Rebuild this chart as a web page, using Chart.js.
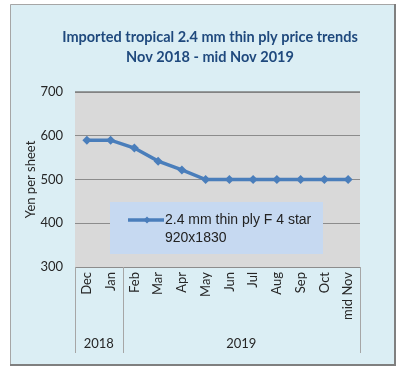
<!DOCTYPE html>
<html>
<head>
<meta charset="utf-8">
<script src="https://cdn.jsdelivr.net/npm/chart.js@4/dist/chart.umd.min.js"></script>
<style>
html,body{margin:0;padding:0;background:#ffffff;}
#wrap{position:absolute;left:0;top:0;width:414px;height:378px;}
</style>
</head>
<body>
<div id="wrap"><canvas id="c" width="414" height="378"></canvas></div>
<script>
const titleLines = ['Imported tropical 2.4 mm thin ply price trends', 'Nov 2018 - mid Nov 2019'];
const months = ['Dec','Jan','Feb','Mar','Apr','May','Jun','Jul','Aug','Sep','Oct','mid Nov'];
const years = ['2018','2019'];
const yearSpans = [2, 10];
const prices = [590,590,572,542,522,500,500,500,500,500,500,500];
const yTicks = [300,400,500,600,700];
const seriesName = '2.4 mm thin ply F 4 star 920x1830';
const legendLines = ['2.4 mm thin ply F 4 star', '920x1830'];
const yTitle = 'Yen per sheet';

const LINE = '#4a7ebb';
const FONT = 'Lato, "Open Sans", sans-serif';

const framePlugin = {
  id: 'frame',
  beforeDraw(chart) {
    const ctx = chart.ctx;
    ctx.save();
    ctx.fillStyle = '#dbeef4';
    ctx.fillRect(10, 4, 385, 361);
    ctx.strokeStyle = '#a6a6a6';
    ctx.lineWidth = 1;
    ctx.beginPath();
    ctx.moveTo(10.5, 365); ctx.lineTo(10.5, 4.5); ctx.lineTo(395, 4.5);
    ctx.stroke();
    ctx.strokeStyle = '#7f7f7f';
    ctx.lineWidth = 2;
    ctx.beginPath();
    ctx.moveTo(395, 4); ctx.lineTo(395, 365); ctx.lineTo(10, 365);
    ctx.stroke();
    const a = chart.chartArea;
    ctx.fillStyle = '#d9d9d9';
    ctx.fillRect(a.left, a.top, a.right - a.left, a.bottom - a.top);
    // title
    ctx.fillStyle = '#1f497d';
    ctx.font = 'bold 14.5px ' + FONT;
    ctx.textAlign = 'center';
    ctx.textBaseline = 'middle';
    ctx.fillText(titleLines[0], 210, 37);
    ctx.fillText(titleLines[1], 210, 57);
    ctx.restore();
  },
  afterDraw(chart) {
    const ctx = chart.ctx;
    const a = chart.chartArea;
    const xs = chart.scales.x;
    ctx.save();
    // top border of plot area
    ctx.strokeStyle = '#7f7f7f';
    ctx.lineWidth = 1.5;
    ctx.beginPath(); ctx.moveTo(a.left, a.top); ctx.lineTo(a.right, a.top); ctx.stroke();
    // group separators and year labels
    const half = (xs.getPixelForValue(1) - xs.getPixelForValue(0)) / 2;
    ctx.strokeStyle = '#a6a6a6';
    ctx.lineWidth = 1;
    let idx = 0;
    const bounds = [xs.getPixelForValue(0) - half];
    yearSpans.forEach(s => { idx += s; bounds.push(xs.getPixelForValue(idx - 1) + half); });
    bounds.forEach(b => {
      const x = Math.round(b) + 0.5;
      ctx.beginPath(); ctx.moveTo(x, a.bottom); ctx.lineTo(x, 353); ctx.stroke();
    });
    ctx.fillStyle = '#262626';
    ctx.font = '13px ' + FONT;
    ctx.textAlign = 'center';
    ctx.textBaseline = 'middle';
    years.forEach((y, i) => ctx.fillText(y, (bounds[i] + bounds[i + 1]) / 2, 344));
    // legend
    const lx = a.left + 35, ly = a.top + 110, lw = 213, lh = 52;
    ctx.fillStyle = '#c6d9f1';
    ctx.fillRect(lx, ly, lw, lh);
    ctx.strokeStyle = LINE;
    ctx.lineWidth = 3.5;
    ctx.beginPath(); ctx.moveTo(lx + 18, ly + 18); ctx.lineTo(lx + 54, ly + 18); ctx.stroke();
    ctx.fillStyle = LINE;
    ctx.beginPath();
    const mx = lx + 37, my = ly + 18, r = 3.5;
    ctx.moveTo(mx, my - r); ctx.lineTo(mx + r, my); ctx.lineTo(mx, my + r); ctx.lineTo(mx - r, my); ctx.closePath(); ctx.fill();
    ctx.fillStyle = '#222222';
    ctx.font = '14px "Liberation Sans", Arial, sans-serif';
    ctx.textAlign = 'left';
    ctx.fillText(legendLines[0], lx + 55, ly + 18);
    ctx.fillText(legendLines[1], lx + 55, ly + 36);
    ctx.restore();
  }
};

new Chart(document.getElementById('c'), {
  type: 'line',
  data: {
    labels: months,
    datasets: [{
      label: seriesName,
      data: prices,
      borderColor: LINE,
      backgroundColor: LINE,
      borderWidth: 3.5,
      pointStyle: 'rectRot',
      pointRadius: 4.5,
      pointHoverRadius: 4.5,
      pointBorderWidth: 0,
      tension: 0
    }]
  },
  options: {
    responsive: false,
    animation: false,
    events: [],
    layout: { padding: { left: 10, right: 54, top: 92, bottom: 0 } },
    plugins: { legend: { display: false }, title: { display: false }, tooltip: { enabled: false } },
    scales: {
      x: {
        offset: true,
        grid: { display: false, drawTicks: false },
        border: { display: false },
        ticks: {
          autoSkip: false, minRotation: 90, maxRotation: 90, padding: 5,
          color: '#262626', font: { family: FONT, size: 13 }
        },
        afterFit(s) { s.height = 111; }
      },
      y: {
        min: 300, max: 700,
        afterBuildTicks(s) { s.ticks = yTicks.map(v => ({ value: v })); },
        grid: { color: '#8c8c8c', lineWidth: 1, drawTicks: false },
        border: { display: false },
        ticks: { padding: 12, color: '#262626', font: { family: FONT, size: 13 } },
        title: { display: true, text: yTitle, color: '#262626', font: { family: FONT, size: 13 }, padding: { top: 13, bottom: 0 } },
        afterFit(s) { s.width = 65; }
      }
    }
  },
  plugins: [framePlugin]
});
</script>
</body>
</html>
